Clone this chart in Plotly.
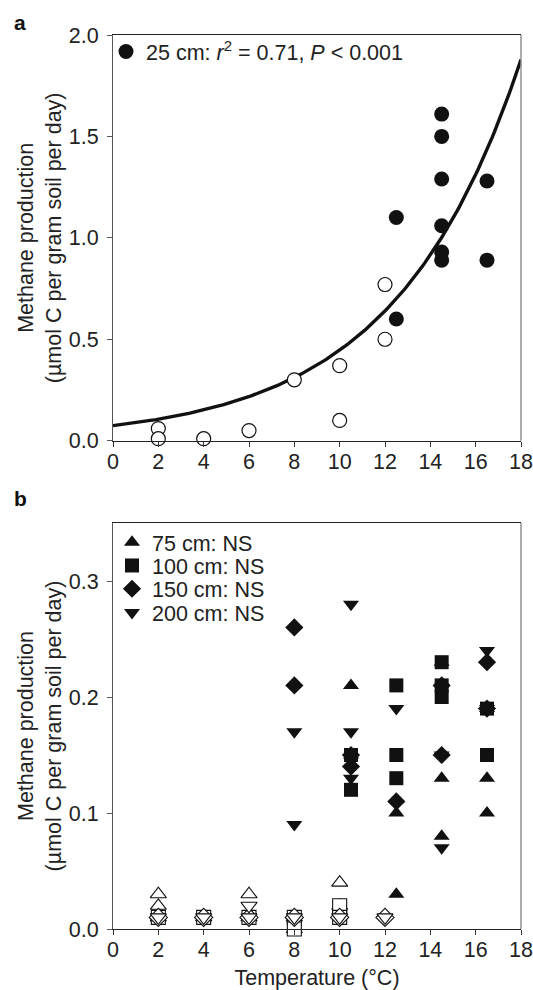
import numpy as np
import plotly.graph_objects as go

# ---------------- data ----------------
# Panel a (25 cm)
temp_a_open = [2, 2, 4, 6, 8, 10, 10, 12, 12]
ch4_a_open = [0.06, 0.01, 0.01, 0.05, 0.30, 0.37, 0.10, 0.77, 0.50]
temp_a_filled = [12.5, 12.5, 14.5, 14.5, 14.5, 14.5, 14.5, 14.5, 16.5, 16.5]
ch4_a_filled = [1.10, 0.60, 1.61, 1.50, 1.29, 1.06, 0.93, 0.89, 1.28, 0.89]
fit_a = 0.074      # exponential fit intercept
fit_b = 0.1797     # exponential fit rate

# Panel b
t75_open = [2, 2, 2, 4, 6, 6, 8, 8, 10, 10]
v75_open = [0.03, 0.02, 0.01, 0.01, 0.03, 0.01, 0.01, 0.00, 0.04, 0.02]
t75_fill = [10.5, 10.5, 12.5, 12.5, 14.5, 14.5, 14.5, 16.5, 16.5, 16.5]
v75_fill = [0.21, 0.15, 0.10, 0.03, 0.23, 0.13, 0.08, 0.19, 0.13, 0.10]

t100_open = [2, 4, 6, 8, 8, 10, 10]
v100_open = [0.01, 0.01, 0.01, 0.01, 0.00, 0.02, 0.01]
t100_fill = [10.5, 10.5, 12.5, 12.5, 12.5, 14.5, 14.5, 14.5, 16.5, 16.5]
v100_fill = [0.15, 0.12, 0.21, 0.15, 0.13, 0.23, 0.21, 0.20, 0.19, 0.15]

t150_open = [2, 4, 6, 8, 10, 12]
v150_open = [0.01, 0.01, 0.01, 0.01, 0.01, 0.01]
t150_fill = [8, 8, 10.5, 10.5, 12.5, 14.5, 14.5, 16.5, 16.5]
v150_fill = [0.26, 0.21, 0.15, 0.14, 0.11, 0.21, 0.15, 0.23, 0.19]

t200_open = [2, 4, 6, 6, 8, 10, 12]
v200_open = [0.01, 0.01, 0.02, 0.01, 0.01, 0.01, 0.01]
t200_fill = [8, 8, 10.5, 10.5, 10.5, 12.5, 14.5, 14.5, 16.5, 16.5]
v200_fill = [0.17, 0.09, 0.28, 0.17, 0.13, 0.19, 0.15, 0.07, 0.24, 0.19]

x_ticks = [0, 2, 4, 6, 8, 10, 12, 14, 16, 18]
ya_ticks = [0.0, 0.5, 1.0, 1.5, 2.0]
yb_ticks = [0.0, 0.1, 0.2, 0.3]

FONT = "Liberation Sans, Arial, Helvetica, sans-serif"
BLACK = "#111111"
FS = 21.5

# pixel helpers for layout placement (figure 533x990)
TOP, BOT, LEFT, RIGHT = 35, 61, 113, 12
PH = 990 - TOP - BOT
PW = 533 - LEFT - RIGHT


def py(p):
    return 1 - (p - TOP) / PH


def px(p):
    return (p - LEFT) / PW


fig = go.Figure()

# ---- panel a ----
xf = np.linspace(0, 18, 200)
fig.add_trace(go.Scatter(x=xf, y=fit_a * np.exp(fit_b * xf), mode="lines",
                         line=dict(color=BLACK, width=3.4), showlegend=False,
                         xaxis="x", yaxis="y", hoverinfo="skip"))
fig.add_trace(go.Scatter(x=temp_a_open, y=ch4_a_open, mode="markers",
                         marker=dict(symbol="circle", size=14, color="white",
                                     line=dict(color=BLACK, width=1.2)),
                         showlegend=False, xaxis="x", yaxis="y", cliponaxis=False))
fig.add_trace(go.Scatter(x=temp_a_filled, y=ch4_a_filled, mode="markers",
                         marker=dict(symbol="circle", size=15, color=BLACK, line=dict(width=0)),
                         name="25 cm: <i>r</i><sup>2</sup> = 0.71, <i>P</i> &lt; 0.001",
                         legend="legend", xaxis="x", yaxis="y", cliponaxis=False))

# ---- panel b ----
series_b = [
    ("75 cm: NS", "triangle-up", t75_open, v75_open, t75_fill, v75_fill),
    ("100 cm: NS", "square", t100_open, v100_open, t100_fill, v100_fill),
    ("150 cm: NS", "diamond", t150_open, v150_open, t150_fill, v150_fill),
    ("200 cm: NS", "triangle-down", t200_open, v200_open, t200_fill, v200_fill),
]
for name, sym, to, vo, tf, vf in series_b:
    fig.add_trace(go.Scatter(x=to, y=vo, mode="markers",
                             marker=dict(symbol=sym, size=14, color="white",
                                         line=dict(color=BLACK, width=1.1)),
                             showlegend=False, xaxis="x2", yaxis="y2", cliponaxis=False))
legend_rows_px = [542.7, 566.0, 589.3, 613.0]
for i, (name, sym, to, vo, tf, vf) in enumerate(series_b):
    fig.add_trace(go.Scatter(x=tf, y=vf, mode="markers",
                             marker=dict(symbol=sym, size=14, color=BLACK, line=dict(width=0)),
                             name=name, legend="legend%d" % (i + 2),
                             xaxis="x2", yaxis="y2", cliponaxis=False))

axis_common = dict(showline=True, linewidth=1.2,
                   ticks="outside", ticklen=5, tickwidth=1.2,
                   showgrid=False, zeroline=False, automargin=False,
                   tickfont=dict(size=FS, color="#222222", family=FONT))
xaxis_style = dict(linecolor="#222222", tickcolor="#333333", mirror=True,
                   ticklabelstandoff=-4, **axis_common)
yaxis_style = dict(linecolor="#555555", tickcolor="#555555", mirror=False,
                   ticklabelstandoff=4, tickformat=".1f", **axis_common)

ytitle = "Methane production<br>(µmol C per gram soil per day)"

legend_font = dict(size=FS, family=FONT, color="#222222")
legends = dict(
    legend=dict(x=px(106), y=py(31), xanchor="left", yanchor="top", bgcolor="rgba(0,0,0,0)",
                font=legend_font, itemwidth=30),
)
for i, c in enumerate(legend_rows_px):
    legends["legend%d" % (i + 2)] = dict(x=px(112), y=py(c - 21), xanchor="left", yanchor="top",
                                         bgcolor="rgba(0,0,0,0)", font=legend_font, itemwidth=30)

# lighter right-hand frame edges
shapes = [
    dict(type="line", xref="x domain", yref="y domain", x0=1, x1=1, y0=0, y1=1,
         line=dict(color="#8a8a8a", width=1.4)),
    dict(type="line", xref="x2 domain", yref="y2 domain", x0=1, x1=1, y0=0, y1=1,
         line=dict(color="#8a8a8a", width=1.4)),
]

fig.update_layout(
    width=533, height=990, autosize=False,
    margin=dict(l=LEFT, r=RIGHT, t=TOP, b=BOT, autoexpand=False),
    paper_bgcolor="white", plot_bgcolor="white",
    font=dict(family=FONT, size=FS, color="#222222"),
    xaxis=dict(domain=[0, 1], anchor="y", range=[0, 18], tickvals=x_ticks, **xaxis_style),
    yaxis=dict(domain=[py(440.7), 1], anchor="x", range=[0, 2.0], tickvals=ya_ticks,
               title=dict(text=ytitle, font=dict(size=FS), standoff=1), **yaxis_style),
    xaxis2=dict(domain=[0, 1], anchor="y2", range=[0, 18], tickvals=x_ticks,
                title=dict(text="Temperature (°C)", font=dict(size=FS), standoff=10),
                **xaxis_style),
    yaxis2=dict(domain=[0, py(523)], anchor="x2", range=[0, 0.35], tickvals=yb_ticks,
                title=dict(text=ytitle, font=dict(size=FS), standoff=1), **yaxis_style),
    shapes=shapes,
    annotations=[
        dict(text="<b>a</b>", xref="paper", yref="paper", x=px(20), y=py(22),
             xanchor="center", yanchor="middle", showarrow=False, font=dict(size=21, color="#111111")),
        dict(text="<b>b</b>", xref="paper", yref="paper", x=px(20), y=py(498),
             xanchor="center", yanchor="middle", showarrow=False, font=dict(size=21, color="#111111")),
    ],
    showlegend=True,
    **legends,
)

fig.write_html("out.html", config={"displayModeBar": False},
               post_script="document.body.style.margin='0';document.body.style.overflow='hidden';")
